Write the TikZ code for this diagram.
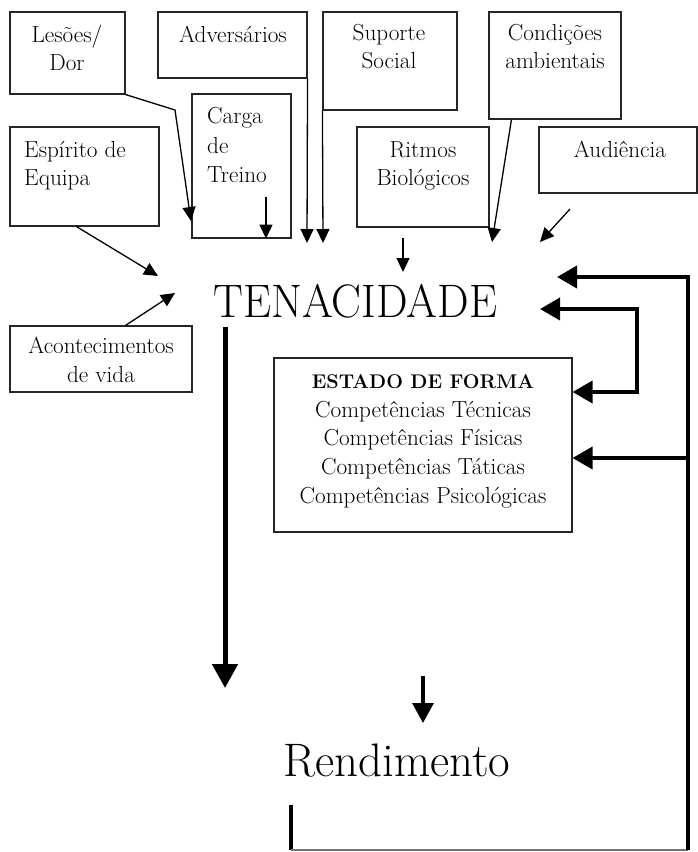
\documentclass[tikz,border=0pt]{standalone}
\usepackage{graphicx}
\usetikzlibrary{arrows.meta}
\begin{document}
\begin{tikzpicture}[x=1pt,y=-1pt,
  box/.style={draw=black!85, line width=1.1pt, inner sep=0pt},
  txt/.style={inner sep=0pt, anchor=base, font=\fontsize{23.2}{28}\selectfont},
  txtl/.style={txt, anchor=base west},
  thinarrow/.style={line width=1.3pt, -{Triangle[length=14pt,width=13pt]}},
  fb/.style={line width=3.8pt, -{Triangle[length=20pt,width=22pt]}},
  fbline/.style={line width=3.8pt},
]
\useasboundingbox (0,0) rectangle (698,852);

% boxes
\node[box, minimum width=115pt, minimum height=82pt]  (les) at (67.5,53) {};
\node[box, minimum width=149pt, minimum height=66pt]  (adv) at (232.5,45) {};
\node[box, minimum width=134pt, minimum height=98pt]  (sup) at (390,61) {};
\node[box, minimum width=132pt, minimum height=107pt] (con) at (555,65.5) {};
\node[box, minimum width=99pt,  minimum height=144pt] (car) at (241.5,166) {};
\node[box, minimum width=149pt, minimum height=99pt]  (esp) at (84.5,176.5) {};
\node[box, minimum width=132pt, minimum height=100pt] (rit) at (423,177) {};
\node[box, minimum width=158pt, minimum height=66pt]  (aud) at (618,160) {};
\node[box, minimum width=182pt, minimum height=66pt]  (aco) at (101,359) {};
\node[box, minimum width=298pt, minimum height=174pt] (est) at (423,445) {};

% box texts
\node[txt] (les1) at (67,42) {Lesões/};
\node[txt] (les2) at (67,70) {Dor};
\node[txt] (adv1) at (233,42) {Adversários};
\node[txt] (sup1) at (389,40) {Suporte};
\node[txt] (sup2) at (389,68) {Social};
\node[txt] (con1) at (555,40) {Condições};
\node[txt] (con2) at (555,68) {ambientais};
\node[txtl] (car1) at (207,123) {Carga};
\node[txtl] (car2) at (207,153) {de};
\node[txtl] (car3) at (207,182) {Treino};
\node[txtl] (esp1) at (24,157) {Espírito de};
\node[txtl] (esp2) at (24,185) {Equipa};
\node[txt] (rit1) at (423,157) {Ritmos};
\node[txt] (rit2) at (423,185) {Biológicos};
\node[txt] (aud1) at (620,157) {Audiência};
\node[txt] (aco1) at (101,353) {Acontecimentos};
\node[txt] (aco2) at (101,382) {de vida};
\node[txt, font=\fontsize{19.8}{28}\selectfont\bfseries] (est0) at (423,388) {ESTADO DE FORMA};
\node[txt] (est1) at (423,417) {Competências Técnicas};
\node[txt] (est2) at (423,445) {Competências Físicas};
\node[txt] (est3) at (423,474) {Competências Táticas};
\node[txt] (est4) at (423,503) {Competências Psicológicas};

% main words
\node[anchor=base west, inner sep=0pt, font=\fontsize{47}{47}\selectfont] (ten) at (213,317) {\scalebox{0.95}[1]{TENACIDADE}};
\node[anchor=base west, inner sep=0pt, font=\fontsize{47}{47}\selectfont] (rend) at (283,776) {Rendimento};

% coordinates
\coordinate (lesbend) at (175,110);
\coordinate (lestip) at (191,221);
\coordinate (advtip) at (307,243);
\coordinate (suptip) at (323,243);
\coordinate (carin) at (266,197);
\coordinate (esptip) at (158,276);
\coordinate (acotip) at (175,293);
\coordinate (ritout) at (403,238);
\coordinate (rittip) at (403,272);
\coordinate (contip) at (492,242);
\coordinate (audout) at (570,209);
\coordinate (audtip) at (540,242);
\coordinate (tendown) at (225,327);
\coordinate (tentip) at (225,688);
\coordinate (rendin) at (423,676);
\coordinate (rendtip) at (423,723);
\coordinate (rb1) at (291,805);
\coordinate (rb2) at (291,850);
\coordinate (rb3) at (688,850);
\coordinate (fbtop) at (688,277);
\coordinate (fbtoptip) at (557,277);
\coordinate (fbmid) at (637,309);
\coordinate (fbmidtip) at (540,309);
\coordinate (fbmidlow) at (637,392);
\coordinate (fblow) at (688,458);

% thin arrows
\draw[thinarrow] (les.south east) -- (lesbend) -- (lestip);
\draw[thinarrow] (adv.south east) -- (advtip);
\draw[thinarrow] (sup.south west) -- (suptip);
\draw[thinarrow] (carin) -- (carin |- car.south);
\draw[thinarrow] ([xshift=67pt]esp.south west) -- (esptip);
\draw[thinarrow] ([xshift=116pt]aco.north west) -- (acotip);
\draw[thinarrow] (ritout) -- (rittip);
\draw[thinarrow] ([xshift=23pt]con.south west) -- (contip);
\draw[thinarrow] (audout) -- (audtip);

% thick arrows
\draw[line width=5pt, -{Triangle[length=24pt,width=25pt]}] (tendown) -- (tentip);
\draw[line width=3.2pt, -{Triangle[length=20pt,width=21pt]}] (rendin) -- (rendtip);

% feedback loops
\draw[fbline] (rb1) -- (rb2);
\draw[line width=1.2pt, black!55] (rb2) -- (rb3);
\draw[fb] (rb3) -- (fbtop) -- (fbtoptip);
\draw[line width=3.8pt, {Triangle[length=20pt,width=22pt]}-{Triangle[length=20pt,width=22pt]}] (est.east |- fbmidlow) -- (fbmidlow) -- (fbmid) -- (fbmidtip);
\draw[fb] (fblow) -- (est.east |- fblow);
\end{tikzpicture}
\end{document}
